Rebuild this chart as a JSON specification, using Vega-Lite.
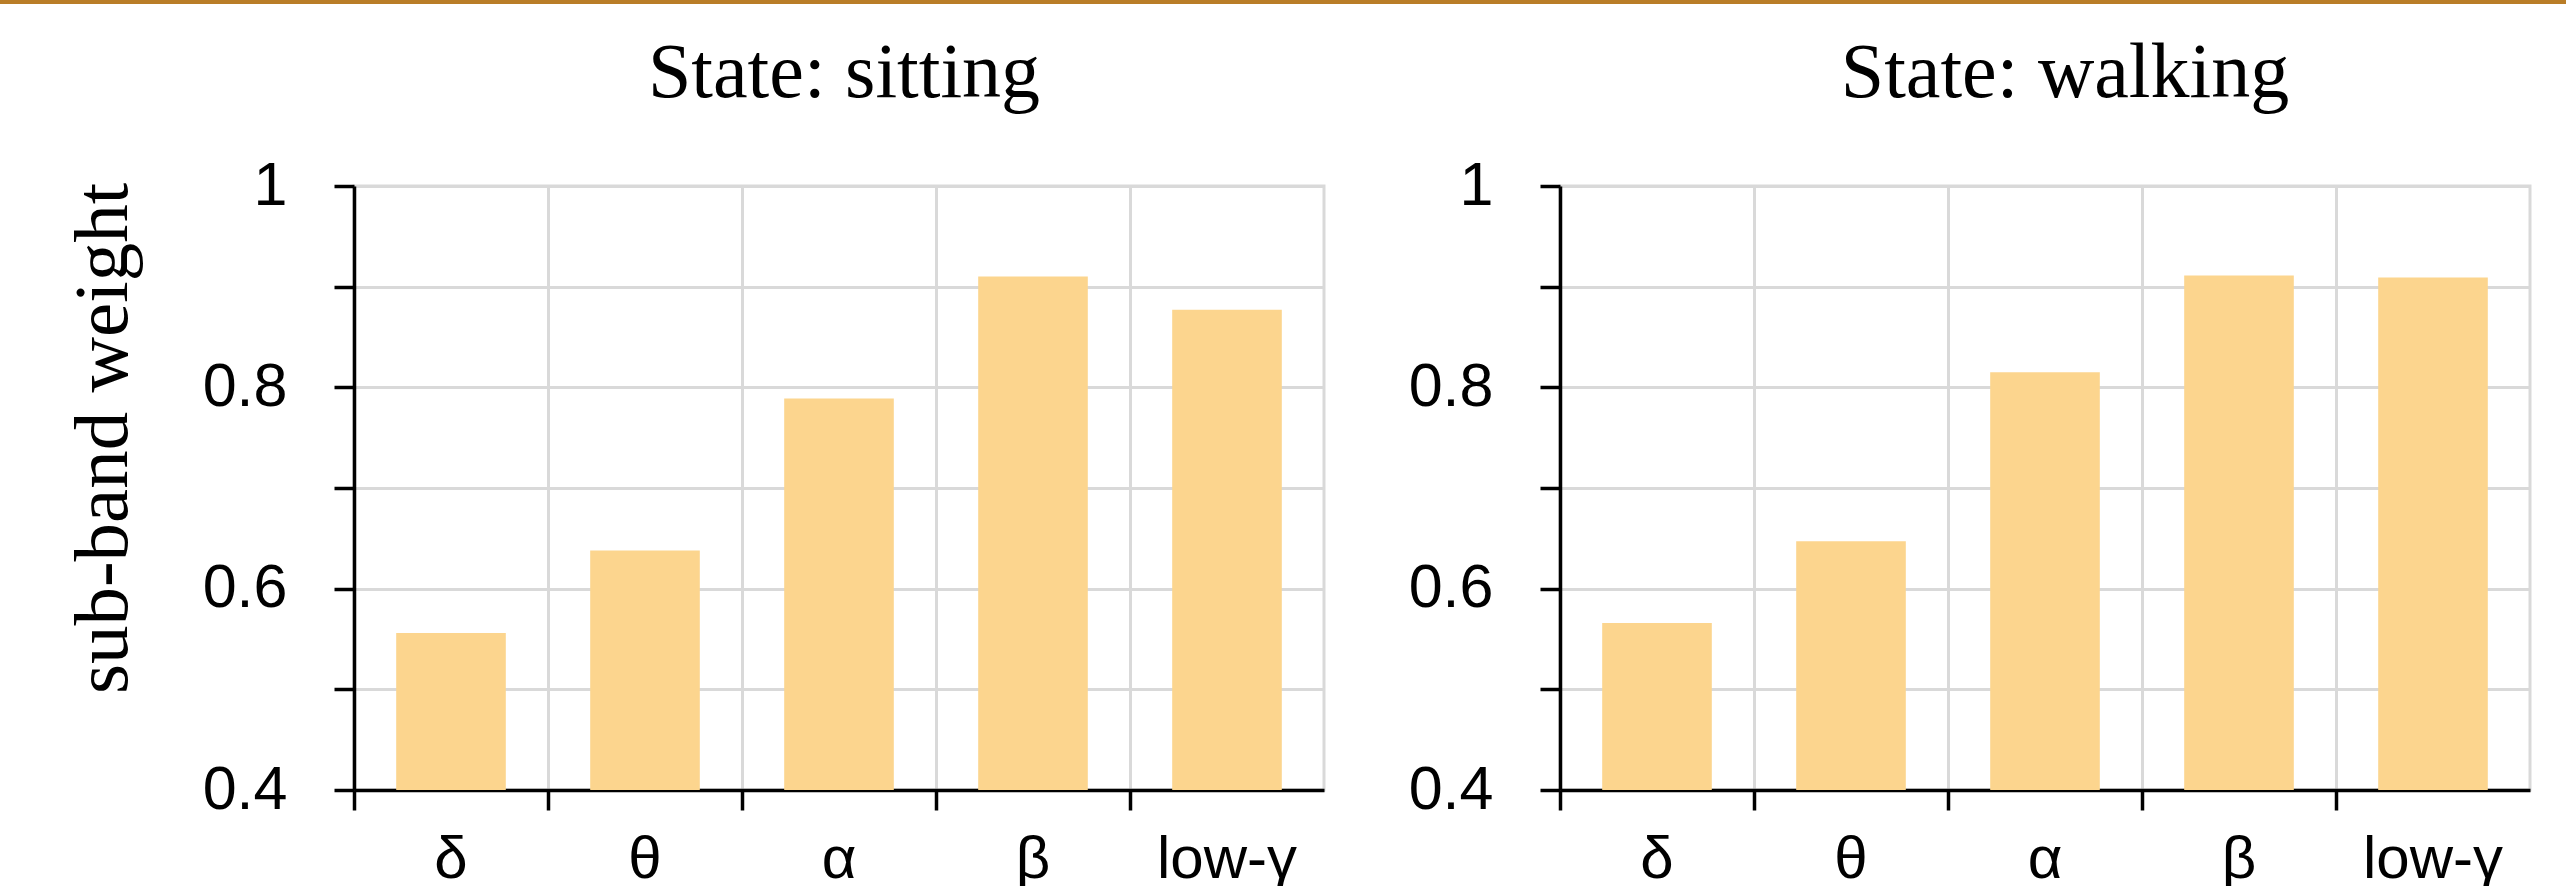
{
  "$schema": "https://vega.github.io/schema/vega-lite/v6.json",
  "padding": 0,
  "autosize": {"type": "pad"},
  "background": "white",
  "datasets": {
    "weights": [
      {"state": "sitting", "band": "δ", "weight": 0.556},
      {"state": "sitting", "band": "θ", "weight": 0.638},
      {"state": "sitting", "band": "α", "weight": 0.789},
      {"state": "sitting", "band": "β", "weight": 0.910},
      {"state": "sitting", "band": "low-γ", "weight": 0.877},
      {"state": "walking", "band": "δ", "weight": 0.566},
      {"state": "walking", "band": "θ", "weight": 0.647},
      {"state": "walking", "band": "α", "weight": 0.815},
      {"state": "walking", "band": "β", "weight": 0.911},
      {"state": "walking", "band": "low-γ", "weight": 0.909}
    ]
  },
  "config": {
    "font": "Liberation Sans",
    "view": {"stroke": "#d9d9d9", "strokeWidth": 3},
    "axis": {
      "domainColor": "black",
      "domainWidth": 3.5,
      "tickColor": "black",
      "tickWidth": 3.5,
      "tickSize": 20,
      "gridColor": "#d9d9d9",
      "gridWidth": 3,
      "labelColor": "black",
      "labelFont": "Liberation Sans",
      "titleColor": "black"
    },
    "title": {
      "font": "Liberation Serif",
      "fontSize": 78,
      "fontWeight": "normal",
      "color": "black",
      "anchor": "middle",
      "frame": "group",
      "baseline": "alphabetic",
      "offset": 42
    }
  },
  "concat": [
    {
      "data": {"values": []},
      "mark": "rect",
      "width": 2566,
      "height": 4,
      "view": {"fill": "#b97d27", "stroke": null}
    },
    {
      "hconcat": [
        {
          "data": {"values": []},
          "mark": "rect",
          "width": 1,
          "height": 604,
          "view": {"stroke": null}
        },
        {
          "hconcat": [
            {
              "width": 970,
              "height": 604,
              "title": {"text": "State: sitting", "dx": 5},
              "data": {"name": "weights"},
              "transform": [{"filter": "datum.state == 'sitting'"}],
              "mark": {"type": "bar", "color": "#fcd58e", "width": {"band": 0.565}},
              "encoding": {
                "x": {
                  "field": "band", "type": "nominal",
                  "sort": ["δ", "θ", "α", "β", "low-γ"],
                  "scale": {"paddingInner": 0, "paddingOuter": 0},
                  "axis": {"title": null, "labelAngle": 0, "bandPosition": 0, "labelPadding": 20, "labelFontSize": 60, "labelOverlap": false, "labelBound": false, "grid": true}
                },
                "y": {
                  "field": "weight", "type": "quantitative",
                  "scale": {"domain": [0.4, 1], "nice": false, "zero": false},
                  "axis": {
                    "values": [0.4, 0.5, 0.6, 0.7, 0.8, 0.9, 1],
                    "format": "~g",
                    "labelExpr": "round(datum.value * 10) % 2 == 1 ? '' : datum.label",
                    "labelFontSize": 61,
                    "labelPadding": 47,
                    "grid": true,
                    "title": ["", "sub-band weight"],
                    "titleFont": "Liberation Serif",
                    "titleFontSize": 77,
                    "titleFontWeight": "normal",
                    "titleBaseline": "alphabetic",
                    "titleLineHeight": 61,
                    "titleAngle": -90,
                    "titleX": -289,
                    "titleY": 252
                  }
                },
                "y2": {"datum": 0.4}
              }
            },
            {
              "width": 970,
              "height": 604,
              "title": {"text": "State: walking", "dx": 20},
              "data": {"name": "weights"},
              "transform": [{"filter": "datum.state == 'walking'"}],
              "mark": {"type": "bar", "color": "#fcd58e", "width": {"band": 0.565}},
              "encoding": {
                "x": {
                  "field": "band", "type": "nominal",
                  "sort": ["δ", "θ", "α", "β", "low-γ"],
                  "scale": {"paddingInner": 0, "paddingOuter": 0},
                  "axis": {"title": null, "labelAngle": 0, "bandPosition": 0, "labelPadding": 20, "labelFontSize": 60, "labelOverlap": false, "labelBound": false, "grid": true}
                },
                "y": {
                  "field": "weight", "type": "quantitative",
                  "scale": {"domain": [0.4, 1], "nice": false, "zero": false},
                  "axis": {
                    "values": [0.4, 0.5, 0.6, 0.7, 0.8, 0.9, 1],
                    "format": "~g",
                    "labelExpr": "round(datum.value * 10) % 2 == 1 ? '' : datum.label",
                    "labelFontSize": 61,
                    "labelPadding": 47,
                    "grid": true,
                    "title": null
                  }
                },
                "y2": {"datum": 0.4}
              }
            }
          ],
          "spacing": 80
        }
      ],
      "spacing": 0
    }
  ],
  "columns": 1,
  "spacing": 29
}
